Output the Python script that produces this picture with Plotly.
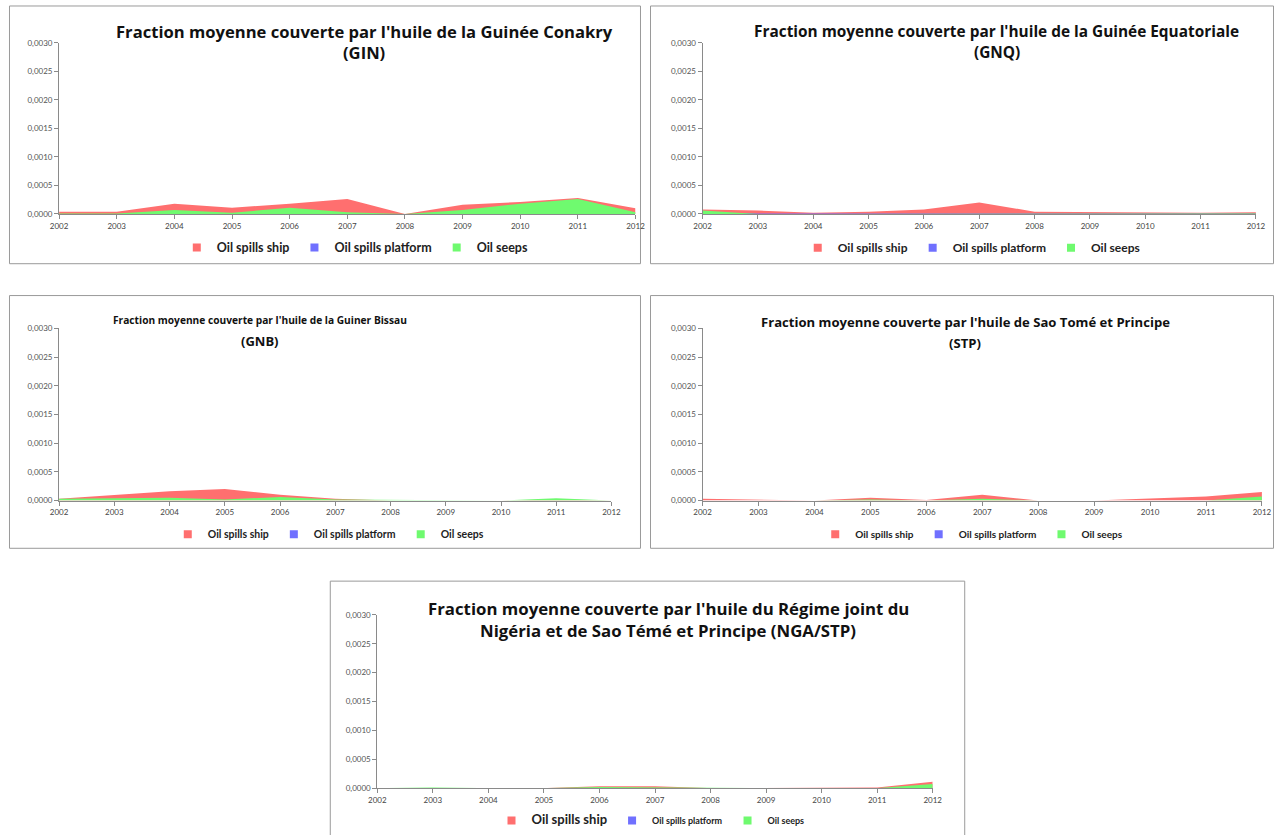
import plotly.graph_objects as go

W, H = 1284, 835

years = [2002, 2003, 2004, 2005, 2006, 2007, 2008, 2009, 2010, 2011, 2012]
series_names = ["Oil spills ship", "Oil spills platform", "Oil seeps"]
y_tick_vals = [0.0, 0.0005, 0.0010, 0.0015, 0.0020, 0.0025, 0.0030]

gin_ship = [0.00004, 0.00004, 0.00018, 0.00011, 0.00018, 0.00026, 0.0, 0.00016, 0.00021, 0.00028, 0.00010]
gin_platform = [0.0, 0.0, 0.0, 0.0, 0.0, 0.0, 0.0, 0.0, 0.0, 0.0, 0.0]
gin_seeps = [0.00001, 0.00001, 0.00007, 0.00002, 0.00011, 0.00003, 0.0, 0.00007, 0.00018, 0.00026, 0.00003]

gnq_ship = [0.00008, 0.00006, 0.00002, 0.00004, 0.00008, 0.00020, 0.00004, 0.00003, 0.00003, 0.00002, 0.00003]
gnq_platform = [0.00003, 0.00001, 0.00001, 0.00001, 0.00001, 0.00001, 0.00001, 0.00001, 0.00001, 0.00001, 0.00001]
gnq_seeps = [0.00006, 0.0, 0.0, 0.0, 0.0, 0.0, 0.0, 0.0, 0.0, 0.0, 0.00001]

gnb_ship = [0.00003, 0.00010, 0.00016, 0.00020, 0.00010, 0.00003, 0.0, 0.0, 0.0, 0.00002, 0.0]
gnb_platform = [0.0, 0.0, 0.0, 0.0, 0.0, 0.0, 0.0, 0.0, 0.0, 0.0, 0.0]
gnb_seeps = [0.00003, 0.00004, 0.00005, 0.00002, 0.00006, 0.00002, 0.00001, 0.00001, 0.0, 0.00004, 0.0]

stp_ship = [0.00003, 0.00002, 0.0, 0.00005, 0.00001, 0.00010, 0.0, 0.0, 0.00003, 0.00007, 0.00015]
stp_platform = [0.0, 0.0, 0.0, 0.0, 0.0, 0.0, 0.0, 0.0, 0.0, 0.0, 0.0]
stp_seeps = [0.0, 0.0, 0.0, 0.00002, 0.0, 0.00003, 0.0, 0.0, 0.0, 0.0, 0.00007]

nga_ship = [0.0, 0.0, 0.0, 0.0, 0.00003, 0.00003, 0.0, 0.0, 0.0, 0.00001, 0.00011]
nga_platform = [0.0, 0.0, 0.0, 0.0, 0.0, 0.0, 0.0, 0.0, 0.0, 0.0, 0.0]
nga_seeps = [0.0, 0.00001, 0.0, 0.0, 0.00002, 0.00001, 0.0, 0.0, 0.0, 0.0, 0.00007]

title_lines = [
    ["Fraction moyenne couverte par l'huile de la Guinée Conakry", "(GIN)"],
    ["Fraction moyenne couverte par l'huile de la Guinée Equatoriale", "(GNQ)"],
    ["Fraction moyenne couverte par l'huile de la Guiner Bissau", "(GNB)"],
    ["Fraction moyenne couverte par l'huile de Sao Tomé et Principe", "(STP)"],
    ["Fraction moyenne couverte par l'huile du Régime joint du",
     "Nigéria et de Sao Témé et Principe (NGA/STP)"],
]
panel_data = [
    (gin_ship, gin_platform, gin_seeps),
    (gnq_ship, gnq_platform, gnq_seeps),
    (gnb_ship, gnb_platform, gnb_seeps),
    (stp_ship, stp_platform, stp_seeps),
    (nga_ship, nga_platform, nga_seeps),
]

colors = ["#FF6F6F", "#7070FF", "#6FFA6F"]

# target positions in reference pixels
plot_px = [
    (60, 636, 42, 214),
    (703, 1256, 42, 214),
    (60, 612, 329, 502),
    (703, 1262, 329, 502),
    (378, 933, 617, 791),
]
box_px = [
    (10, 5, 641, 264),
    (651, 5, 1282, 264),
    (10, 296, 641, 550),
    (651, 296, 1282, 550),
    (331, 583, 965, 845),
]
# center x, line1 y, line2 y, font size
title_px = [
    (365, 31, 52, 16.6),
    (997, 31, 52, 15.4),
    (261, 321, 342, 10.2),
    (965.5, 323, 344, 13.1),
    (668.5, 611, 633, 16.8),
]
legend_px = [
    (356, 248, 12.5),
    (972, 248, 12),
    (329, 536, 10.5),
    (972, 536, 10),
    (651, 824, 9),
]

S = 0.9845
CX, CY = 642.0, 417.5
DY = 2.5

def px_x(x, clamp=False):
    p = CX + (x - CX) / S
    if clamp:
        p = min(max(p, 0.5), W - 0.5)
    return p / W

def px_y(y, clamp=False):
    p = CY + (y - CY) / S + DY
    if clamp:
        p = max(p, 0.5)
    return 1 - p / H

fig = go.Figure()
layout = dict(
    width=W, height=H,
    margin=dict(l=0, r=0, t=0, b=0),
    paper_bgcolor="white", plot_bgcolor="white",
    separators=", ",
    showlegend=True,
    shapes=[], annotations=[],
)

for i in range(5):
    n = "" if i == 0 else str(i + 1)
    xa = "x" + n
    ya = "y" + n
    lg = "legend" + n
    x0, x1, yt, yb = plot_px[i]
    vals = panel_data[i]
    for k in range(3):
        fig.add_trace(go.Scatter(
            x=years, y=vals[k], xaxis=xa, yaxis=ya,
            mode="lines", line=dict(width=0, color=colors[k]),
            fill="tozeroy", fillcolor=colors[k],
            showlegend=False, hoverinfo="skip",
        ))
    for k in range(3):
        nm = series_names[k]
        if i == 4 and k == 0:
            nm = "<span style='font-size:13px'>" + nm + "</span>"
        fig.add_trace(go.Scatter(
            x=[None], y=[None], xaxis=xa, yaxis=ya,
            mode="markers", marker=dict(symbol="square", size=8, color=colors[k]),
            name=nm, legend=lg, showlegend=True,
        ))
    layout["xaxis" + n] = dict(
        domain=[px_x(x0), px_x(x1)], anchor=ya,
        range=[2002, 2012], tickvals=years, ticktext=[str(v) for v in years],
        showgrid=False, zeroline=False, showline=True, linecolor="#8a8a8a", linewidth=1,
        ticks="outside", ticklen=4, tickcolor="#8a8a8a",
        tickfont=dict(family="Lato", size=8, color="#444"),
        fixedrange=True,
    )
    layout["yaxis" + n] = dict(
        domain=[px_y(yb), px_y(yt)], anchor=xa,
        range=[0, 0.003], tickvals=y_tick_vals, tickformat=".4f",
        showgrid=False, zeroline=False, showline=True, linecolor="#8a8a8a", linewidth=1,
        ticks="outside", ticklen=4, tickcolor="#8a8a8a",
        tickfont=dict(family="Lato", size=8, color="#555"),
        fixedrange=True,
    )
    lx, ly, lfs = legend_px[i]
    layout[lg] = dict(
        x=px_x(lx), y=px_y(ly), xanchor="center", yanchor="middle",
        orientation="h", xref="paper", yref="paper",
        bgcolor="rgba(0,0,0,0)", itemwidth=30,
        font=dict(family="Lato", size=lfs, color="#222", weight="bold"),
    )
    bx0, by0, bx1, by1 = box_px[i]
    layout["shapes"].append(dict(
        type="rect", xref="paper", yref="paper",
        x0=px_x(bx0, True), x1=px_x(bx1, True),
        y0=px_y(by1), y1=px_y(by0, True),
        line=dict(color="#9a9a9a", width=1), fillcolor="rgba(0,0,0,0)", layer="below",
    ))
    tx, ty1, ty2, tfs = title_px[i]
    for j, (line_text, ty) in enumerate(zip(title_lines[i], (ty1, ty2))):
        fs = tfs
        if i == 2 and j == 1:
            fs = 13
        layout["annotations"].append(dict(
            text="<b>" + line_text + "</b>", xref="paper", yref="paper",
            x=px_x(tx), y=px_y(ty), xanchor="center", yanchor="middle",
            showarrow=False, align="center",
            font=dict(family="Open Sans", size=fs, color="#111"),
        ))

fig.update_layout(**layout)
fig.write_html(
    "out.html",
    config={"displayModeBar": False},
    post_script="document.body.style.margin='0';document.body.style.overflow='hidden';",
)
